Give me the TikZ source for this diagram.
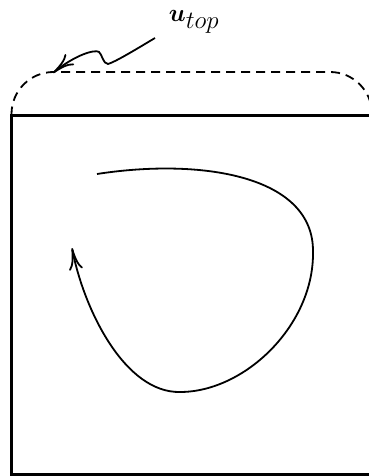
\documentclass[tikz,border=0pt]{standalone}
\usepackage{amsmath,amssymb,bm}
\usetikzlibrary{arrows.meta}
\DeclareMathSizes{29}{29}{25}{20}
\begin{document}
\begin{tikzpicture}[x=1pt,y=-1pt,
  thinline/.style={line width=1.8pt},
  boxline/.style={line width=2.2pt},
  dashline/.style={line width=1.8pt,dash pattern=on 9pt off 6pt, rounded corners=42pt},
  arr/.style={-{To[length=22pt,width=14pt]}}]
\useasboundingbox (0,0) rectangle (369,476);
\clip (0,0) rectangle (369,476);
\draw[boxline] (11.5,477) -- (11.5,115.5) -- (372,115.5);
\draw[boxline] (11.5,474.5) -- (372,474.5);
\coordinate (dl) at (11.5,115.5);
\coordinate (dr) at (372,115.5);
\draw[dashline] (dl) -- (11.5,72) -- (372,72) -- (dr);
\node[inner sep=0pt,anchor=base] (lab) at (194,22) {\fontsize{29}{32}\selectfont $\boldsymbol{u}_{top}$};
\coordinate (s0) at (155,38);
\coordinate (s1) at (53,73);
\draw[thinline,arr] (s0) .. controls (135,50) and (115,62) .. (108,64)
  .. controls (103,64) and (102,54) .. (99,52)
  .. controls (95,49) and (75,55) .. (s1);
\coordinate (c0) at (97,174);
\coordinate (c1) at (313,252);
\coordinate (c2) at (180,392);
\coordinate (c3) at (72,248);
\draw[thinline,arr] (c0) .. controls (200,158) and (314,175) .. (c1)
  .. controls (314,325) and (245,392) .. (c2)
  .. controls (125,393) and (84,310) .. (c3);
\end{tikzpicture}
\end{document}
